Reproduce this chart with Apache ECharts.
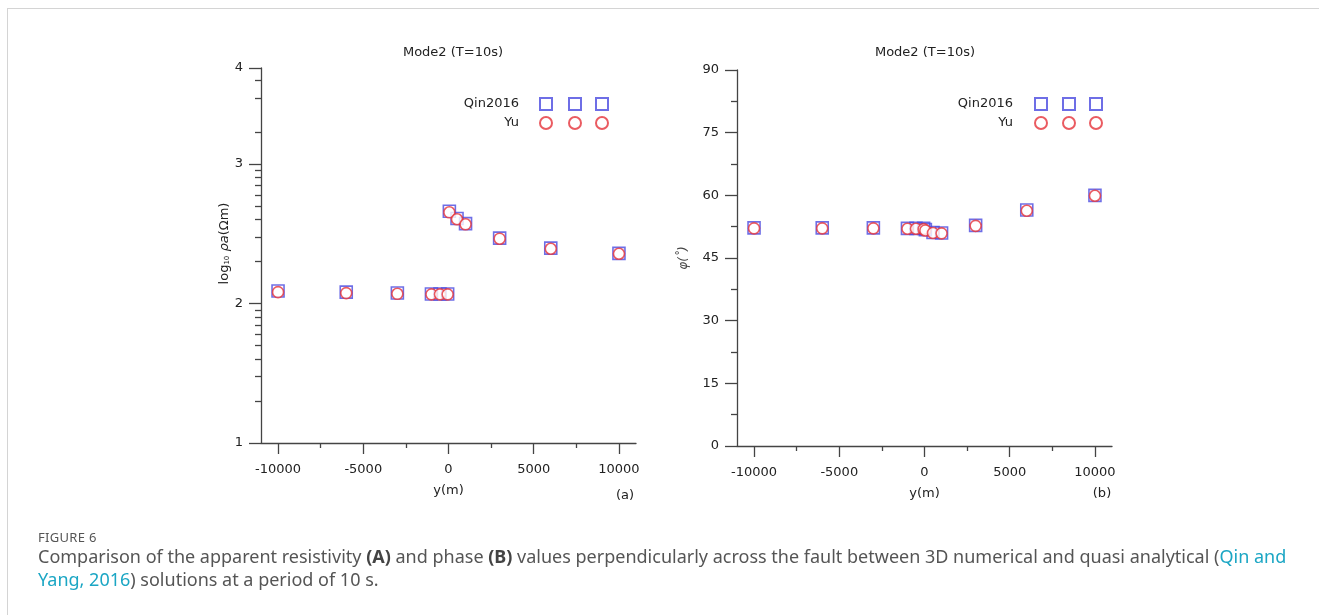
<!doctype html>
<html>
<head>
<meta charset="UTF-8">
<title>Figure 6</title>
<script src="https://cdn.jsdelivr.net/npm/echarts@6/dist/echarts.min.js"></script>
<style>
	body { margin: 0; background: #fff; }
	#frame { position: absolute; left: 7px; top: 8px; width: 1312px; height: 607px;
		border-top: 1px solid #d4d4d4; border-left: 1px solid #d4d4d4; }
	#chart { position: absolute; left: 0; top: 0; width: 1319px; height: 615px; }
	.cap { position: absolute; left: 38px; font-family: "Noto Sans", sans-serif; color: #555; white-space: nowrap; }
	#figno { top: 528px; font-size: 13px; letter-spacing: 0.3px; }
	#captext { top: 545px; font-size: 18px; line-height: 23px; letter-spacing: 0; }
	#captext b { color: #444; }
	#captext a { color: #1ba6c4; text-decoration: none; }
</style>
</head>
<body>
<div id="frame"></div>
<div id="chart"></div>
<div id="figno" class="cap">FIGURE 6</div>
<div id="captext" class="cap">Comparison of the apparent resistivity <b>(A)</b> and phase <b>(B)</b> values perpendicularly across the fault between 3D numerical and quasi analytical (<a>Qin and</a><br><a>Yang, 2016</a>) solutions at a period of 10 s.</div>
<script>
	// profile positions, m
	var yPos = [-10000, -6000, -3000, -1000, -500, -50, 50, 500, 1000, 3000, 6000, 10000];
	// log10 apparent resistivity
	var rhoQin = [2.089, 2.081, 2.075, 2.068, 2.068, 2.068, 2.661, 2.609, 2.572, 2.468, 2.396, 2.359];
	var rhoYu = [2.081, 2.074, 2.069, 2.065, 2.065, 2.065, 2.653, 2.603, 2.567, 2.464, 2.392, 2.356];
	// phase, degrees
	var phaseQin = [52.2, 52.2, 52.2, 52.1, 52.1, 52.1, 51.8, 51.1, 51.0, 52.8, 56.5, 60.0];
	var phaseYu = [52.1, 52.1, 52.1, 52.0, 52.0, 51.9, 51.6, 51.0, 50.9, 52.7, 56.3, 59.9];

	// ticks
	var xMajor = [-10000, -5000, 0, 5000, 10000];
	var xMinor = [-7500, -2500, 2500, 7500];
	var rhoTop = 3.687; // top of the (compressed) last decade, labelled 4
	var rhoMajor = [1, 2, 3, rhoTop];
	var rhoMajorLabels = ['1', '2', '3', '4'];
	var rhoMinor = [1.301, 1.477, 1.602, 1.699, 1.778, 1.845, 1.903, 1.954,
		2.301, 2.477, 2.602, 2.699, 2.778, 2.845, 2.903, 2.954,
		3.225, 3.471, 3.596];
	var phaseMajor = [0, 15, 30, 45, 60, 75, 90];
	var phaseMinor = [7.5, 22.5, 37.5, 52.5, 67.5, 82.5];

	var FONT = '"DejaVu Sans", sans-serif';
	var AXIS = '#444';
	var BLUE = '#4a4ae0';
	var RED = '#e5323a';

	function pairs(xs, ys) {
		var out = [];
		for (var i = 0; i < xs.length; i++) out.push([xs[i], ys[i]]);
		return out;
	}

	function xMain(g, name) {
		return {
			type: 'value', gridIndex: g, position: 'bottom', min: -11000, max: 11000,
			name: name, nameLocation: 'middle', nameGap: 41,
			nameTextStyle: { fontFamily: FONT, fontSize: 13, color: '#222' },
			axisLine: { onZero: false, lineStyle: { color: AXIS, width: 1.3 } },
			axisTick: { customValues: xMajor, length: 11, lineStyle: { color: AXIS, width: 1.3 } },
			axisLabel: { customValues: xMajor, margin: 20, fontFamily: FONT, fontSize: 13, color: '#222',
				formatter: function (v) { return String(v); } },
			splitLine: { show: false }
		};
	}
	function xMinorAxis(g) {
		return {
			type: 'value', gridIndex: g, position: 'bottom', min: -11000, max: 11000,
			axisLine: { show: false, onZero: false },
			axisTick: { show: true, customValues: xMinor, length: 5, lineStyle: { color: AXIS, width: 1.3 } },
			axisLabel: { show: false }, splitLine: { show: false }
		};
	}
	function yMinorAxis(g, min, max, ticks) {
		return {
			type: 'value', gridIndex: g, position: 'left', min: min, max: max,
			axisLine: { show: false, onZero: false },
			axisTick: { show: true, customValues: ticks, length: 6, lineStyle: { color: AXIS, width: 1.3 } },
			axisLabel: { show: false }, splitLine: { show: false }
		};
	}

	var legendBase = { orient: 'vertical', padding: 0, itemGap: 5, itemWidth: 12, itemHeight: 12,
		selectedMode: false, data: ['Qin2016', 'Yu'] };
	function legendText(pos, gap) {
		return Object.assign({}, legendBase, pos, { align: 'right',
			textStyle: { fontFamily: FONT, fontSize: 13, color: '#222', padding: [0, gap, 0, 0] } });
	}
	function legendIcons(pos) {
		return Object.assign({}, legendBase, pos, { formatter: function () { return ''; } });
	}

	var chart = echarts.init(document.getElementById('chart'));
	var option = {
		animation: false,
		backgroundColor: 'transparent',
		title: [
			{ text: 'Mode2 (T=10s)', left: 448, top: 41, textAlign: 'center',
				textStyle: { fontFamily: FONT, fontSize: 13, fontWeight: 'normal', color: '#222' } },
			{ text: 'Mode2 (T=10s)', left: 920, top: 41, textAlign: 'center',
				textStyle: { fontFamily: FONT, fontSize: 13, fontWeight: 'normal', color: '#222' } },
			{ text: '(a)', left: 620, top: 484, textAlign: 'center',
				textStyle: { fontFamily: FONT, fontSize: 13, fontWeight: 'normal', color: '#222' } },
			{ text: '(b)', left: 1097, top: 482, textAlign: 'center',
				textStyle: { fontFamily: FONT, fontSize: 13, fontWeight: 'normal', color: '#222' } }
		],
		legend: [
			legendText({ right: 766, top: 97 }, 16),
			legendIcons({ left: 568, top: 97 }),
			legendIcons({ left: 595, top: 97 }),
			legendText({ right: 271, top: 97 }, 17),
			legendIcons({ left: 1062, top: 97 }),
			legendIcons({ left: 1089, top: 97 })
		],
		grid: [
			{ left: 261, top: 68, width: 375, height: 375 },
			{ left: 737, top: 70, width: 375, height: 376 }
		],
		xAxis: [xMain(0, 'y(m)'), xMinorAxis(0), xMain(1, 'y(m)'), xMinorAxis(1)],
		yAxis: [
			{
				type: 'value', gridIndex: 0, position: 'left', min: 1, max: rhoTop,
				name: '{n|log}{s|10}{n| }{i|ρa}{n|(Ωm)}', nameLocation: 'middle', nameGap: 27,
				nameTextStyle: {
					padding: [0, 0, 0, 24],
					rich: {
						n: { fontFamily: FONT, fontSize: 13, color: '#222' },
						s: { fontFamily: FONT, fontSize: 7, color: '#222', verticalAlign: 'bottom' },
						i: { fontFamily: FONT, fontSize: 13, color: '#222', fontStyle: 'italic' }
					}
				},
				axisLine: { show: true, onZero: false, lineStyle: { color: AXIS, width: 1.3 } },
				axisTick: { show: true, customValues: rhoMajor, length: 12, lineStyle: { color: AXIS, width: 1.3 } },
				axisLabel: {
					customValues: rhoMajor, margin: 18, fontFamily: FONT, fontSize: 13, color: '#222',
					formatter: function (v) { return rhoMajorLabels[rhoMajor.indexOf(v)]; }
				},
				splitLine: { show: false }
			},
			yMinorAxis(0, 1, rhoTop, rhoMinor),
			{
				type: 'value', gridIndex: 1, position: 'left', min: 0, max: 90,
				name: 'φ(˚)', nameLocation: 'middle', nameGap: 47,
				nameTextStyle: { fontFamily: FONT, fontSize: 12, color: '#444', fontStyle: 'italic' },
				axisLine: { show: true, onZero: false, lineStyle: { color: AXIS, width: 1.3 } },
				axisTick: { show: true, customValues: phaseMajor, length: 12, lineStyle: { color: AXIS, width: 1.3 } },
				axisLabel: { customValues: phaseMajor, margin: 18, fontFamily: FONT, fontSize: 13, color: '#222' },
				splitLine: { show: false }
			},
			yMinorAxis(1, 0, 90, phaseMinor)
		],
		series: [
			{ name: 'Qin2016', type: 'scatter', xAxisIndex: 0, yAxisIndex: 0, symbol: 'rect', symbolSize: 12,
				itemStyle: { color: 'rgba(255,255,255,0)', borderColor: BLUE, borderWidth: 1.6 },
				data: pairs(yPos, rhoQin) },
			{ name: 'Yu', type: 'scatter', xAxisIndex: 0, yAxisIndex: 0, symbol: 'circle', symbolSize: 11,
				itemStyle: { color: '#fff', borderColor: RED, borderWidth: 1.6 },
				data: pairs(yPos, rhoYu) },
			{ name: 'Qin2016', type: 'scatter', xAxisIndex: 2, yAxisIndex: 2, symbol: 'rect', symbolSize: 12,
				itemStyle: { color: 'rgba(255,255,255,0)', borderColor: BLUE, borderWidth: 1.6 },
				data: pairs(yPos, phaseQin) },
			{ name: 'Yu', type: 'scatter', xAxisIndex: 2, yAxisIndex: 2, symbol: 'circle', symbolSize: 11,
				itemStyle: { color: '#fff', borderColor: RED, borderWidth: 1.6 },
				data: pairs(yPos, phaseYu) }
		]
	};
	chart.setOption(option);
</script>
</body>
</html>
